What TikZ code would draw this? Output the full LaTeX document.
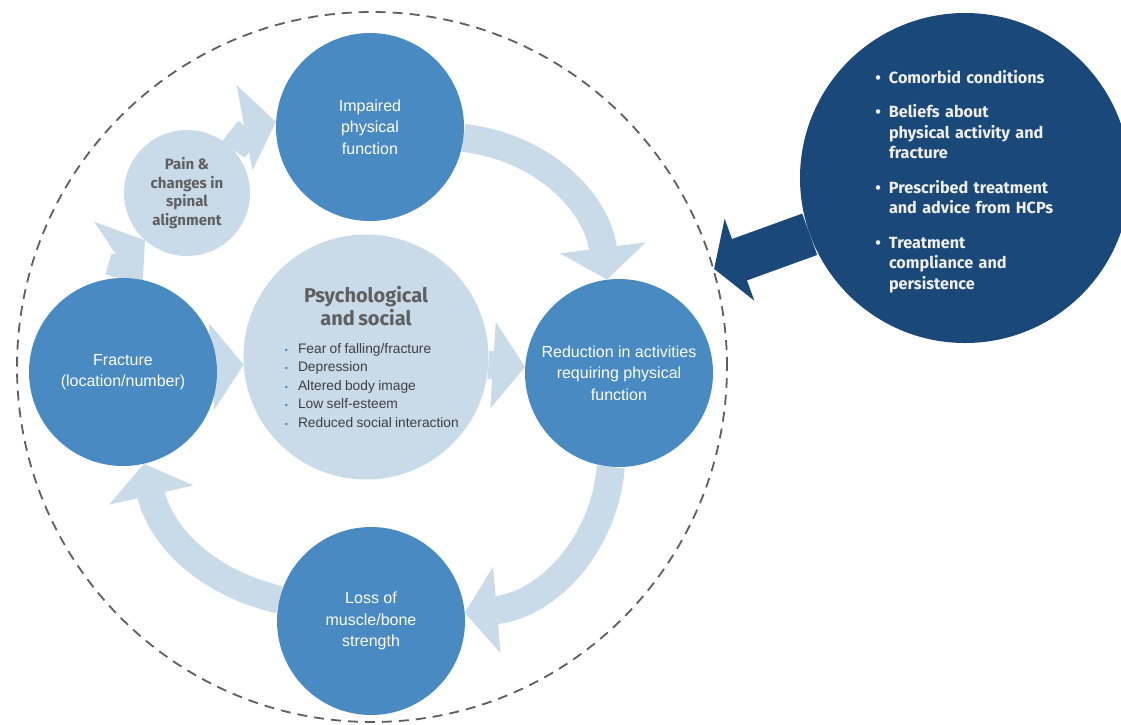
\documentclass[tikz,border=0pt]{standalone}
\usepackage{fontspec}
\setmainfont{Liberation Sans}
\newfontfamily\labelfont{Fira Sans}
\usetikzlibrary{arrows.meta, backgrounds}

\definecolor{stageblue}{RGB}{72,138,193}
\definecolor{paleblue}{RGB}{201,218,232}
\definecolor{navy}{RGB}{26,72,120}
\definecolor{darkgrey}{RGB}{95,95,95}

\newcommand{\psybullet}{\leavevmode\llap{\textcolor{stageblue}{\fontsize{9}{9}\selectfont\textbullet}\hspace{10pt}}}
\newcommand{\navybullet}{\leavevmode\llap{\textbullet\hspace{8pt}}}

\begin{document}
\begin{tikzpicture}[
    x=1pt, y=-1pt,
    stage/.style={circle, fill=stageblue, text=white, align=center, inner sep=0pt,
                  minimum size=188pt, font=\fontsize{16}{21.5}\selectfont},
    side/.style={circle, fill=paleblue, text=darkgrey, align=center, inner sep=0pt,
                 minimum size=126pt, font=\labelfont\bfseries\fontsize{15}{18.5}\selectfont},
    flow/.style={paleblue, line width=28pt, -{Triangle[width=85pt, length=32pt]}},
    pull/.style={navy, line width=44pt, -{Triangle[width=86pt, length=27pt]}},
]
\useasboundingbox (0,0) rectangle (1121,724);

% dashed boundary round the whole cycle
\node[circle, draw=darkgrey, line width=1.8pt, dash pattern=on 10pt off 7pt,
      minimum size=710pt, inner sep=0pt] (boundary) at (372,367) {};

% the cycle
\node[stage] (impaired) at (370,127) {Impaired\\physical\\function};
\node[side] (pain) at (187,193) {Pain \&\\changes in\\spinal\\alignment};
\node[stage] (fracture) at (123,372) {Fracture\\(location/number)};
\node[stage] (reduction) at (619,373) {Reduction in activities\\requiring physical\\function};
\node[stage] (loss) at (371,621) {Loss of\\muscle/bone\\strength};

% centre: psychological and social
\node[circle, fill=paleblue, inner sep=0pt, minimum size=220pt, text width=200pt] (psych) at (366,357) {%
  {\centering\color{darkgrey}\labelfont\bfseries\fontsize{20}{23}\selectfont
   Psychological\\and social\par}
  \vspace{9pt}
  {\leftskip=32pt\color{black!75}\fontsize{13.8}{18.6}\selectfont
   \psybullet Fear of falling/fracture\\
   \psybullet Depression\\
   \psybullet Altered body image\\
   \psybullet Low self-esteem\\
   \psybullet Reduced social interaction\par}};

% outside factors
\node[circle, fill=navy, inner sep=0pt, minimum size=330pt, text width=184pt,
      text=white!94!black, font=\labelfont\bfseries\fontsize{16.2}{20.5}\selectfont] (factors) at (965,178) {%
  \leftskip=16pt
  \navybullet\rule{0pt}{20pt}Comorbid conditions\\[14pt]
  \navybullet Beliefs about\\physical activity and\\fracture\\[14pt]
  \navybullet Prescribed treatment\\and advice from HCPs\\[14pt]
  \navybullet Treatment\\compliance and\\persistence\par};

\begin{scope}[on background layer]
\draw[flow] (fracture) to[bend left=22] (pain);
\draw[flow] (pain) to[bend left=23] (impaired);
\draw[flow] (impaired) to[bend left=38] (reduction);
\draw[flow] (reduction) to[bend left=40] (loss);
\draw[flow] (loss) to[bend left=32] (fracture);
\draw[flow] (fracture) -- (psych);
\draw[flow] (psych) -- (reduction);
\draw[pull] (factors) -- (boundary.16);
\end{scope}
\end{tikzpicture}
\end{document}
